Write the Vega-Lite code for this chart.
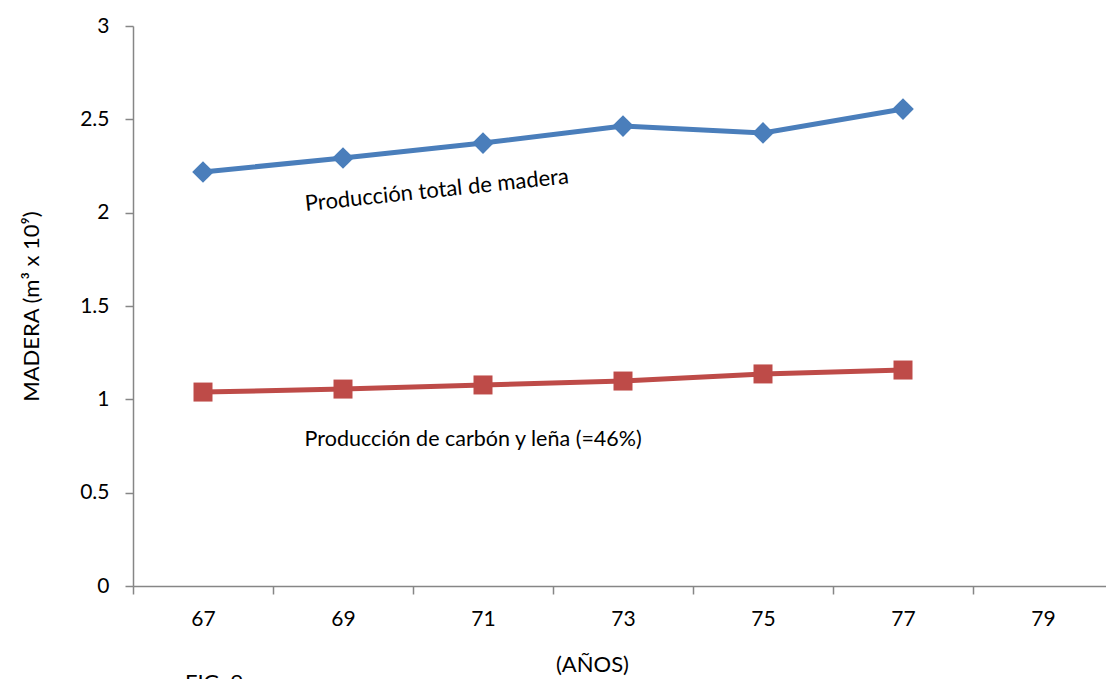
{
  "$schema": "https://vega.github.io/schema/vega-lite/v6.json",
  "width": 973,
  "height": 560,
  "autosize": "none",
  "padding": {"left": 133, "top": 26, "right": 0, "bottom": 93},
  "config": {"view": {"stroke": null}, "font": "Lato"},
  "title": {"text": "FIG. 9", "orient": "bottom", "anchor": "start", "frame": "group", "dx": 52, "offset": -2, "fontSize": 22, "fontWeight": "normal", "color": "#000000"},
  "datasets": {
    "series": [
      {"year": "67", "series": "total", "value": 2.218},
      {"year": "69", "series": "total", "value": 2.293},
      {"year": "71", "series": "total", "value": 2.373},
      {"year": "73", "series": "total", "value": 2.464},
      {"year": "75", "series": "total", "value": 2.427},
      {"year": "77", "series": "total", "value": 2.555},
      {"year": "67", "series": "carbon", "value": 1.039},
      {"year": "69", "series": "carbon", "value": 1.055},
      {"year": "71", "series": "carbon", "value": 1.077},
      {"year": "73", "series": "carbon", "value": 1.098},
      {"year": "75", "series": "carbon", "value": 1.136},
      {"year": "77", "series": "carbon", "value": 1.157}
    ]
  },
  "layer": [
    {
      "data": {"name": "series"},
      "encoding": {
        "x": {
          "field": "year", "type": "ordinal",
          "scale": {"domain": ["67","69","71","73","75","77","79"], "range": [0, 980], "paddingInner": 0, "paddingOuter": 0},
          "axis": {
            "title": "(AÑOS)", "titleFontSize": 22, "titleFontWeight": "normal", "titlePadding": 25, "titleX": 459, "titleColor": "#000000",
            "labelAngle": 0, "labelFontSize": 21, "labelColor": "#000000", "labelPadding": 14,
            "tickBand": "extent", "tickSize": 8, "tickColor": "#868686", "domainColor": "#868686", "domainWidth": 1.5, "tickWidth": 1.5, "grid": false
          }
        },
        "y": {
          "field": "value", "type": "quantitative",
          "scale": {"domain": [0, 3], "nice": false, "zero": true},
          "axis": {
            "title": "MADERA (m³ x 10⁹)", "titleFontSize": 22, "titleFontWeight": "normal", "titleColor": "#000000", "titlePadding": 36,
            "values": [0, 0.5, 1, 1.5, 2, 2.5, 3], "format": "~g",
            "labelFontSize": 21, "labelColor": "#000000", "labelPadding": 16,
            "tickSize": 8, "tickColor": "#868686", "domainColor": "#868686", "domainWidth": 1.5, "tickWidth": 1.5, "grid": false
          }
        },
        "color": {"field": "series", "type": "nominal", "scale": {"domain": ["total", "carbon"], "range": ["#4A7EBB", "#BE4B48"]}, "legend": null}
      },
      "layer": [
        {"mark": {"type": "line", "strokeWidth": 5}},
        {
          "mark": {"type": "point", "filled": true, "opacity": 1},
          "encoding": {
            "shape": {"field": "series", "type": "nominal", "scale": {"domain": ["total", "carbon"], "range": ["diamond", "square"]}, "legend": null},
            "size": {"field": "series", "type": "nominal", "scale": {"domain": ["total", "carbon"], "range": [470, 361]}, "legend": null}
          }
        }
      ]
    },
    {
      "data": {"values": [{"label": "Producción total de madera", "x": 70.34, "y": 2.12}]},
      "mark": {"type": "text", "angle": -6, "fontSize": 22, "align": "center", "baseline": "middle", "color": "#000000"},
      "encoding": {
        "x": {"field": "x", "type": "quantitative", "scale": {"domain": [66, 80], "range": [0, 980], "nice": false, "zero": false}, "axis": null},
        "y": {"field": "y", "type": "quantitative"},
        "text": {"field": "label"}
      }
    },
    {
      "data": {"values": [{"label": "Producción de carbón y leña (=46%)", "x": 70.86, "y": 0.78}]},
      "mark": {"type": "text", "fontSize": 21.5, "align": "center", "baseline": "middle", "color": "#000000"},
      "encoding": {
        "x": {"field": "x", "type": "quantitative", "scale": {"domain": [66, 80], "range": [0, 980], "nice": false, "zero": false}, "axis": null},
        "y": {"field": "y", "type": "quantitative"},
        "text": {"field": "label"}
      }
    }
  ],
  "resolve": {"scale": {"x": "independent"}}
}
